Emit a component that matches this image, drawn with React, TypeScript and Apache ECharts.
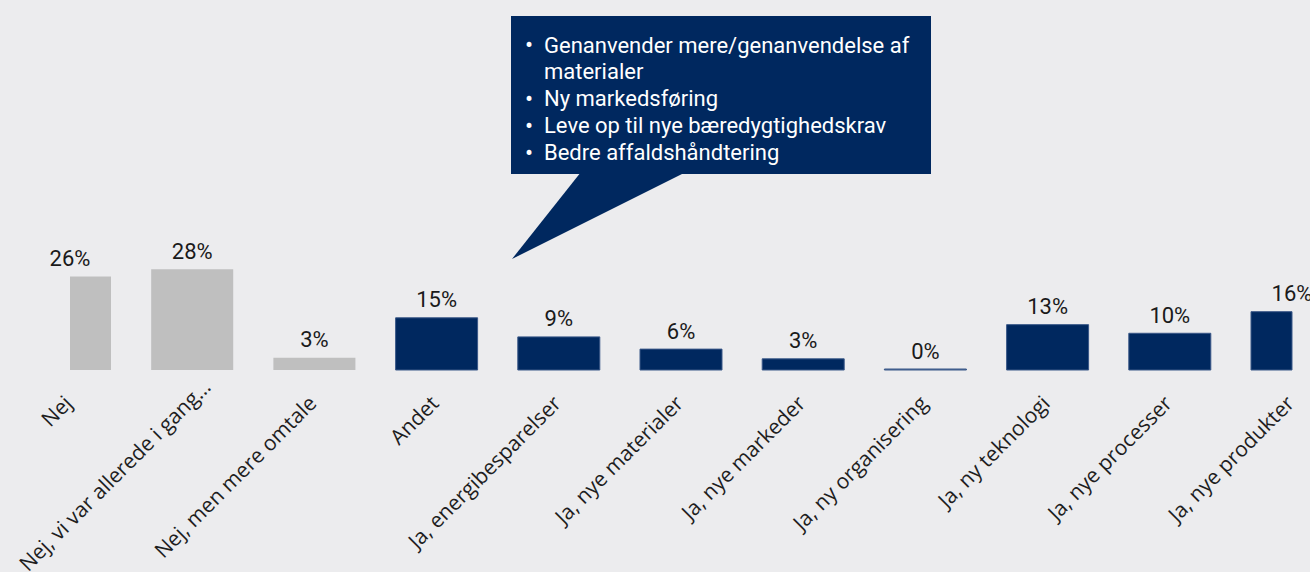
import React, { useEffect, useRef } from "react";
import * as echarts from "echarts";

const categories: string[] = [
  "Nej",
  "Nej, vi var allerede i gang…",
  "Nej, men mere omtale",
  "Andet",
  "Ja, energibesparelser",
  "Ja, nye materialer",
  "Ja, nye markeder",
  "Ja, ny organisering",
  "Ja, ny teknologi",
  "Ja, nye processer",
  "Ja, nye produkter",
];
const values: number[] = [26, 28, 3.4, 14.5, 9.2, 5.8, 3.1, 0, 12.6, 10.2, 16.2];
const isNo: boolean[] = [true, true, true, false, false, false, false, false, false, false, false];
const calloutLines: { bullet: boolean; text: string }[] = [
  { bullet: true, text: "Genanvender mere/genanvendelse af" },
  { bullet: false, text: "materialer" },
  { bullet: true, text: "Ny markedsføring" },
  { bullet: true, text: "Leve op til nye bæredygtighedskrav" },
  { bullet: true, text: "Bedre affaldshåndtering" },
];

const NAVY = "#00285F";
const GRAY = "#BFBFBF";
const BG = "#ECECEE";

export default function App() {
  const ref = useRef<HTMLDivElement>(null);
  useEffect(() => {
    if (!ref.current) return;
    const chart = echarts.init(ref.current, undefined, { renderer: "svg" });
    const textEls: any[] = [];
    calloutLines.forEach((l, i) => {
      const y = 45 + i * 26.9;
      if (l.bullet) {
        textEls.push({
          type: "text",
          x: 525,
          y,
          style: { text: "•", fill: "#fff", font: '24px "Roboto"', verticalAlign: "middle", align: "left" },
        });
      }
      textEls.push({
        type: "text",
        x: 544,
        y,
        style: { text: l.text, fill: "#fff", font: '22px "Roboto"', verticalAlign: "middle", align: "left" },
      });
    });
    const labelFont = { fontFamily: "Open Sans", fontSize: 21, color: "#1e1e1e" };
    chart.setOption({
      animation: false,
      backgroundColor: BG,
      grid: {
        left: 70,
        right: 18,
        top: 226,
        bottom: 202,
        containLabel: false,
        outerBoundsMode: "none",
      },
      xAxis: {
        type: "category",
        data: categories,
        boundaryGap: false,
        axisLine: { show: false },
        axisTick: { show: false },
        axisLabel: {
          interval: 0,
          rotate: 45,
          margin: 27,
          ...labelFont,
          formatter: (v: string) => (v.length > 24 ? `{l|${v}}` : `{n|${v}}`),
          rich: {
            n: { ...labelFont, padding: [0, 3, 0, 0] },
            l: { ...labelFont, padding: [0, -20, 0, 0] },
          },
        },
      },
      yAxis: { type: "value", min: 0, max: 40, show: false, splitLine: { show: false } },
      series: [
        {
          type: "custom",
          data: values.map((v, i) => [i, v]),
          encode: { x: 0, y: 1 },
          renderItem: (params: any, api: any) => {
            const idx = api.value(0);
            const v = api.value(1);
            const top = api.coord([idx, v]);
            const base = api.coord([idx, 0]);
            const cs = params.coordSys;
            const h = Math.max(base[1] - top[1], 1);
            const rect = echarts.graphic.clipRectByRect(
              { x: top[0] - 41, y: base[1] - h, width: 82, height: h },
              { x: cs.x, y: cs.y - 200, width: cs.width, height: cs.height + 200 }
            );
            const no = isNo[idx];
            const children: any[] = [];
            if (rect) {
              children.push({
                type: "rect",
                shape: rect,
                style: no
                  ? { fill: GRAY }
                  : { fill: v === 0 ? "#4E6C9C" : NAVY, stroke: "#3A5888", lineWidth: 1 },
              });
            }
            children.push({
              type: "text",
              x: top[0],
              y: base[1] - h - 7,
              style: {
                text: Math.round(v) + "%",
                fill: "#1a1a1a",
                font: '22px "Roboto"',
                align: "center",
                verticalAlign: "bottom",
              },
            });
            return { type: "group", children };
          },
        },
      ],
      graphic: [
        {
          type: "polygon",
          shape: { points: [[581, 172], [686, 172], [512, 259]] },
          style: { fill: NAVY },
        },
        {
          type: "rect",
          shape: { x: 511, y: 16, width: 420, height: 158 },
          style: { fill: NAVY },
        },
        ...textEls,
      ],
    });
    return () => chart.dispose();
  }, []);
  return (
    <div style={{ position: "fixed", left: 0, top: 0, width: 1310, height: 572, background: BG }}>
      <div ref={ref} style={{ width: 1310, height: 572 }} />
    </div>
  );
}
